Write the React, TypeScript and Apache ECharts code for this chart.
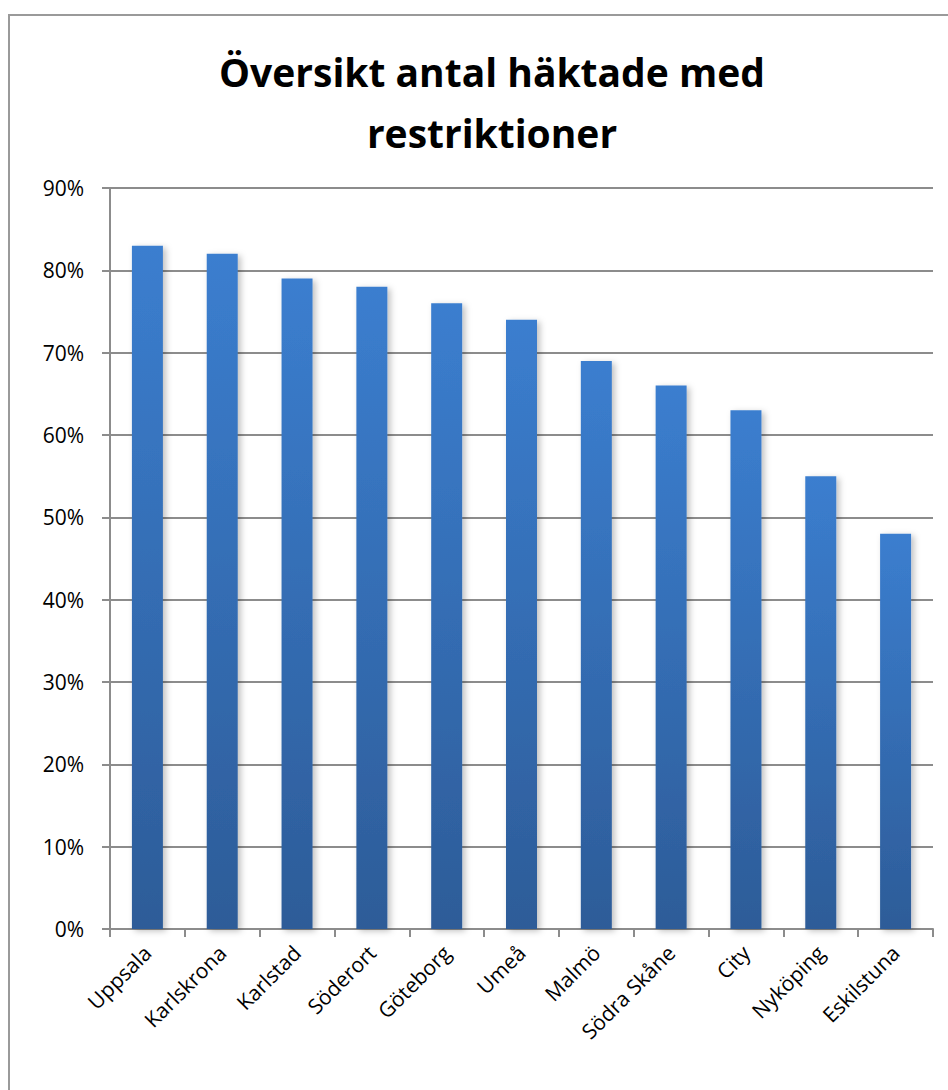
import React, { useEffect, useRef } from "react";
import * as echarts from "echarts";

const categories = ["Uppsala", "Karlskrona", "Karlstad", "Söderort", "Göteborg", "Umeå", "Malmö", "Södra Skåne", "City", "Nyköping", "Eskilstuna"];
const values = [83, 82, 79, 78, 76, 74, 69, 66, 63, 55, 48];
const titleText = "Översikt antal häktade med\nrestriktioner";

export default function App() {
  const ref = useRef<HTMLDivElement>(null);
  useEffect(() => {
    const chart = echarts.init(ref.current!, null, { renderer: "svg" });
    chart.setOption({
      animation: false,
      backgroundColor: "#ffffff",
      title: {
        text: titleText,
        left: 487,
        textAlign: "center",
        top: 36,
        textStyle: { fontFamily: "Open Sans", fontWeight: "bold", fontSize: 39, lineHeight: 61, color: "#000" },
      },
      graphic: [
        { type: "rect", shape: { x: 9, y: 15, width: 960, height: 1100 }, style: { fill: "none", stroke: "#9a9a9a", lineWidth: 2 }, silent: true },
      ],
      grid: { left: 110, right: 15, top: 188, bottom: 161 },
      xAxis: {
        type: "category",
        data: categories,
        axisLine: { lineStyle: { color: "#8c8c8c", width: 2 } },
        axisTick: { show: true, length: 8, lineStyle: { color: "#8c8c8c", width: 2 } },
        axisLabel: { rotate: 45, fontFamily: "Open Sans", fontSize: 21, color: "#000", margin: 20, interval: 0 },
      },
      yAxis: {
        type: "value",
        min: 0,
        max: 90,
        interval: 10,
        axisLine: { show: true, lineStyle: { color: "#8c8c8c", width: 2 } },
        axisTick: { show: true, length: 8, lineStyle: { color: "#8c8c8c", width: 2 } },
        axisLabel: { formatter: "{value}%", fontFamily: "Open Sans", fontSize: 21, color: "#000", margin: 26 },
        splitLine: { lineStyle: { color: "#8c8c8c", width: 2 } },
      },
      series: [
        {
          type: "bar",
          data: values,
          barWidth: 31,
          itemStyle: {
            color: new echarts.graphic.LinearGradient(0, 0, 0, 1, [
              { offset: 0, color: "#3b7ecf" },
              { offset: 1, color: "#2d5c98" },
            ]),
            shadowColor: "rgba(0,0,0,0.25)",
            shadowBlur: 6,
            shadowOffsetX: 3,
            shadowOffsetY: 2,
          },
        },
      ],
    });
    return () => chart.dispose();
  }, []);
  return <div ref={ref} style={{ position: "absolute", left: 0, top: 0, width: 948, height: 1090 }} />;
}
